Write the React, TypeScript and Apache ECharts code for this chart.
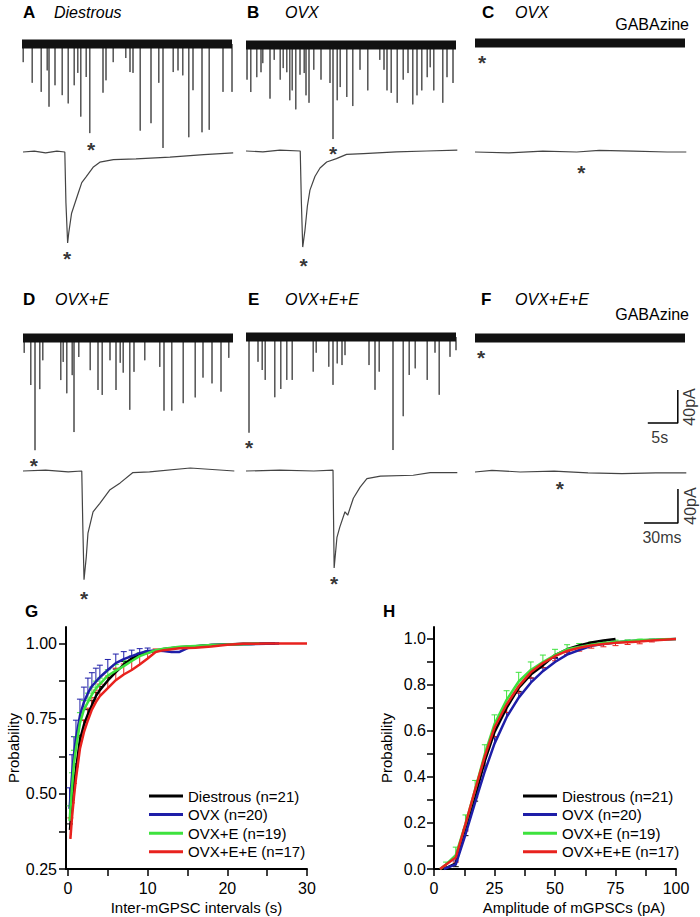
import React, { useEffect, useRef } from "react";
import * as echarts from "echarts";

const FONT = "'Liberation Sans', Arial, Helvetica, sans-serif";

// ---------- Long sweeps (A–F, top rows): spikes as [time s, amplitude pA]
const sweepDurationS = 35;
const spikesA = [[0.2,22],[1.7,47],[3.2,58],[4.2,32],[4.5,76],[5.5,50],[6.7,62],[7.7,72],[8.7,50],[9.3,35],[9.8,88],[10.7,40],[11.3,108],[13.5,59],[14,44],[15.2,22],[17.3,17],[18,34],[18.5,35],[19.7,105],[21.5,96],[22.8,47],[23.5,126],[25.2,34],[26,32],[26.8,38],[27.8,113],[28.5,56],[30,107],[31.2,104],[33.5,58],[35,58]];
const spikesB = [[0.17,42],[0.8,57],[1.8,39],[2.5,33],[2.8,22],[4,65],[4.7,18],[5.7,42],[6.2,28],[6.8,33],[7.3,67],[7.7,55],[8.3,78],[9,36],[9.7,34],[10,61],[10.5,70],[11.3,30],[12.5,42],[14,46],[14.5,114],[15.2,67],[15.7,51],[16.8,63],[17.8,74],[19,30],[20.3,55],[22.3,18],[23,30],[23.5,55],[24.2,58],[25.2,70],[26.2,42],[27,34],[27.8,72],[28.5,61],[29.3,55],[30.2,39],[30.7,27],[31.3,55],[32.8,70],[33.5,39],[34.5,46]];
const spikesC: number[][] = [];
const spikesD = [[0.2,18],[1.3,57],[2,136],[2.8,62],[3.3,27],[6.3,51],[6.7,29],[7.3,67],[8.2,45],[8.5,114],[9.3,23],[11.2,39],[12.5,63],[13.2,69],[14.5,27],[15.5,63],[16.2,30],[16.7,42],[17.8,87],[18.5,41],[20.3,27],[22.8,35],[23.5,88],[24.8,88],[26.7,79],[28.7,72],[30,48],[31.5,55],[33,65],[34.3,24]];
const spikesE = [[0.5,116],[2,30],[2.7,40],[3.2,52],[4.8,73],[5.8,63],[6.8,52],[7.7,52],[11.2,42],[11.7,19],[13.8,36],[14.5,58],[15.2,32],[16,34],[16.5,22],[20.5,34],[21.5,64],[22.2,42],[24.5,137],[26.2,96],[27.2,46],[28.2,38],[30.2,52],[31.5,19],[32.2,70],[34,24],[35,16]];
const spikesF: number[][] = [];

// ---------- Single events (A–F, second rows): [time ms, current pA]
const eventA = [[0,0],[10,1],[20,-1],[30,1],[37,0],[38,-60],[39.5,-107],[40.5,-95],[43,-72],[46,-60],[49,-48],[52,-36],[56,-29],[62,-18],[68,-12],[80,-9],[100,-8],[130,-6],[160,-3],[186,-1]];
const eventB = [[0,0],[15,-1],[30,1],[48,0],[49,-60],[50.2,-113],[52.2,-93],[54.3,-65],[56.6,-46],[61,-30],[65.5,-20],[71.4,-13],[80,-9],[89,-4],[104,-3],[133,-1],[160,0],[187,1]];
const eventC = [[0,0],[30,-1],[60,1],[90,0],[110,2],[140,1],[170,0],[187,0]];
const eventD = [[0,0],[20,1],[40,-1],[52,0],[53,-69],[54,-128],[56,-101],[57.5,-73],[62,-48],[68,-38],[77,-22],[86,-14],[97,-2],[112,-1],[148,3.5],[187,0]];
const eventE = [[0,0],[30,1],[60,0],[77,1],[77.5,-58],[78,-114],[80.5,-78],[83,-66],[87.6,-48],[90,-52],[95,-32],[101,-19],[107,-9],[119,-6],[148,-5],[163,-2],[187,-2]];
const eventF = [[0,0],[15,2],[40,0],[70,1],[100,-1],[130,-2],[160,-1],[187,-1]];

// Asterisks marking the expanded event
const starsTop = [[11.5,-122],[14.5,-125],[1.2,-18],[1.8,-149],[0.5,-128],[1,-18]];
const starsEvent = [[39,-119],[51,-129],[94,-18],[54,-144],[78,-126],[75,-13]];

// Scale bars (in panel F units)
const scaleTop = [[28.8,-103],[33.8,-103],[33.8,-63]]; // 5 s, 40 pA
const scaleTopLabels = [{ v: [30.8,-120], t: "5s", r: 0 }, { v: [35.8,-83.6], t: "40pA", r: 90 }];
const scaleEv = [[149.6,-60],[179.6,-60],[179.6,-20]]; // 30 ms, 40 pA
const scaleEvLabels = [{ v: [165.5,-76.5], t: "30ms", r: 0 }, { v: [190.3,-40], t: "40pA", r: 90 }];

// ---------- G: cumulative inter-event intervals [s, probability], error (+)
const groupNames = ["Diestrous (n=21)", "OVX (n=20)", "OVX+E (n=19)", "OVX+E+E (n=17)"];
const groupColors = ["#000000", "#1e1ea8", "#3de23d", "#e8221e"];
const gDiestrous = [[0.25,0.38],[0.5,0.46],[0.75,0.53],[1,0.58],[1.5,0.68],[2,0.73],[2.5,0.765],[3,0.795],[3.5,0.825],[4,0.845],[5,0.877],[6,0.905],[7,0.93],[8,0.95],[9,0.962],[10,0.97],[11,0.976],[12,0.982],[14,0.988],[16,0.991],[18,0.995],[20,0.997],[22,0.999],[26,1.0]];
const gDiestrousErr = [0.02,0.02,0.02,0.02,0.015,0.015,0.015,0.015,0.012,0.012,0.01,0.01,0.01,0.008,0.006,0.005,0,0,0,0,0,0,0,0];
const gOVX = [[0.2,0.45],[0.5,0.56],[0.75,0.63],[1,0.685],[1.5,0.76],[2,0.805],[2.5,0.835],[3,0.858],[3.5,0.873],[4,0.888],[5,0.912],[6,0.935],[7,0.948],[8,0.958],[9,0.968],[10,0.975],[11,0.977],[12,0.975],[13,0.972],[14,0.972],[15,0.985],[16,0.99],[18,0.995],[20,0.997],[23,0.998],[26.5,1.0]];
const gOVXErr = [0.07,0.07,0.06,0.06,0.055,0.05,0.05,0.045,0.045,0.04,0.035,0.03,0.025,0.02,0.015,0.01,0,0,0,0,0,0,0,0,0,0];
const gOVXE = [[0.2,0.41],[0.5,0.52],[0.75,0.6],[1,0.65],[1.5,0.735],[2,0.78],[2.5,0.805],[3,0.83],[3.5,0.85],[4,0.865],[5,0.893],[6,0.91],[7,0.925],[8,0.942],[9,0.958],[10,0.968],[11,0.978],[12,0.983],[14,0.989],[16,0.992],[18,0.995],[20,0.997],[22,0.998],[24,1.0]];
const gOVXEErr = [0.05,0.05,0.045,0.04,0.035,0.03,0.03,0.025,0.025,0.02,0.02,0.02,0.018,0.015,0.01,0.008,0,0,0,0,0,0,0,0];
const gOVXEE = [[0.3,0.35],[0.5,0.42],[0.75,0.49],[1,0.55],[1.5,0.65],[2,0.705],[2.5,0.745],[3,0.78],[3.5,0.805],[4,0.825],[5,0.852],[6,0.878],[7,0.897],[8,0.912],[9,0.93],[10,0.95],[11,0.972],[12,0.978],[14,0.984],[16,0.986],[18,0.99],[20,0.996],[22,0.999],[25,1.0],[30,1.0]];
const gOVXEEErr = [0.07,0.05,0.045,0.04,0.04,0.04,0.04,0.04,0.04,0.04,0.04,0.04,0.035,0.035,0.03,0.02,0.01,0,0,0,0,0,0,0,0];
const gXTicks = [0,5,10,15,20,25,30];
const gXLabels = [0,10,20,30];
const gYTicks = [0.25,0.375,0.5,0.625,0.75,0.875,1.0];
const gYLabels = [0.25,0.5,0.75,1.0];

// ---------- H: cumulative amplitudes [pA, probability], error (+/-)
const hDiestrous = [[3,0],[5,0.004],[9,0.025],[13,0.165],[17,0.315],[21,0.47],[25,0.595],[30,0.70],[35,0.787],[40,0.845],[45,0.885],[50,0.93],[55,0.955],[60,0.972],[65,0.985],[70,0.993],[75,1.0]];
const hDiestrousErr = [0,0,-0.015,-0.02,-0.02,-0.02,-0.02,-0.02,-0.015,-0.015,-0.01,-0.01,-0.01,-0.008,-0.005,-0.005,0];
const hOVX = [[4,0],[9,0.02],[13,0.15],[17,0.29],[21,0.425],[25,0.545],[30,0.66],[35,0.745],[40,0.81],[45,0.86],[50,0.9],[55,0.932],[60,0.952],[65,0.97],[70,0.978],[75,0.985],[80,0.99],[85,0.993],[90,0.996],[95,0.998],[100,1.0]];
const hOVXErr = [0,0.015,0.02,0.025,0.025,0.025,0.02,0.02,0.02,0.015,0.015,0.01,0.01,0.008,0.006,0.005,0.004,0.003,0.002,0,0];
const hOVXE = [[2.5,0],[5,0.02],[9,0.06],[13,0.195],[17,0.345],[21,0.5],[25,0.63],[30,0.735],[35,0.815],[40,0.865],[45,0.9],[50,0.93],[55,0.955],[60,0.965],[65,0.975],[70,0.982],[75,0.987],[80,0.99],[85,0.995],[90,0.997],[95,0.999],[100,1.0]];
const hOVXEErr = [0,0.01,0.035,0.04,0.04,0.04,0.04,0.04,0.04,0.035,0.03,0.025,0.02,0.015,0.012,0.01,0.008,0.006,0.004,0.002,0,0];
const hOVXEE = [[2.5,0],[5,0.02],[9,0.05],[13,0.195],[17,0.345],[21,0.49],[25,0.615],[30,0.715],[35,0.795],[40,0.855],[45,0.895],[50,0.925],[55,0.948],[60,0.962],[65,0.972],[70,0.978],[75,0.983],[80,0.986],[85,0.989],[90,0.993],[95,0.997],[100,1.0]];
const hOVXEEErr = [0,-0.01,-0.02,-0.03,-0.035,-0.04,-0.04,-0.035,-0.03,-0.025,-0.02,-0.02,-0.015,-0.015,-0.012,-0.012,-0.012,-0.01,-0.01,-0.006,0,0];
const hXTicks = [0,12.5,25,37.5,50,62.5,75,87.5,100];
const hXLabels = [0,25,50,75,100];
const hYTicks = [0,0.1,0.2,0.3,0.4,0.5,0.6,0.7,0.8,0.9,1.0];
const hYLabels = [0,0.2,0.4,0.6,0.8,1.0];

// ---------- text
const panelLetters = [["A",23,12],["B",247,12],["C",482,12],["D",23,299],["E",248,299],["F",481,299],["G",25,611],["H",383,611]];
const conditions = [["Diestrous",54,12],["OVX",285,12],["OVX",515,12],["OVX+E",55,299],["OVX+E+E",285,299],["OVX+E+E",515,299]];
const gabazine = [["GABAzine",689,24],["GABAzine",689,314]];

// layout
const topLayout = [{left:22,base:44},{left:246,base:45},{left:475,base:43},{left:23,base:338},{left:246,base:337},{left:475,base:338}];
const evLayout = [{left:23,base:152},{left:246,base:151},{left:475,base:152},{left:23,base:471},{left:246,base:471},{left:475,base:472}];
const TOP_PX_PER_S = 6, TOP_PX_PER_PA = 0.825, TOP_YMIN = -160, TOP_YMAX = 12;
const EV_PX_PER_MS = 1.13, EV_PX_PER_PA = 0.85, EV_XMAX = 187, EV_YMIN = -150, EV_YMAX = 10;

function spikeLine(sp: number[][]) {
  const out: number[][] = [];
  for (const [t, a] of sp) out.push([t, 0], [t, -a], [t, 0]);
  return out;
}

function withErr(d: number[][], e: number[]) {
  return d.map((p, i) => [p[0], p[1], e[i] || 0]);
}

function buildOption() {
  const grid: any[] = [];
  const xAxis: any[] = [];
  const yAxis: any[] = [];
  const series: any[] = [];

  const spikes = [spikesA, spikesB, spikesC, spikesD, spikesE, spikesF];
  const events = [eventA, eventB, eventC, eventD, eventE, eventF];

  topLayout.forEach((l, i) => {
    grid.push({ left: l.left, top: l.base - TOP_YMAX * TOP_PX_PER_PA, width: sweepDurationS * TOP_PX_PER_S, height: (TOP_YMAX - TOP_YMIN) * TOP_PX_PER_PA, containLabel: false, outerBoundsMode: "none" });
    xAxis.push({ gridIndex: i, type: "value", min: 0, max: sweepDurationS, show: false });
    yAxis.push({ gridIndex: i, type: "value", min: TOP_YMIN, max: TOP_YMAX, show: false });
  });
  evLayout.forEach((l, i) => {
    grid.push({ left: l.left, top: l.base - EV_YMAX * EV_PX_PER_PA, width: EV_XMAX * EV_PX_PER_MS, height: (EV_YMAX - EV_YMIN) * EV_PX_PER_PA, containLabel: false, outerBoundsMode: "none" });
    xAxis.push({ gridIndex: 6 + i, type: "value", min: 0, max: EV_XMAX, show: false });
    yAxis.push({ gridIndex: 6 + i, type: "value", min: EV_YMIN, max: EV_YMAX, show: false });
  });
  grid.push({ left: 66, top: 627, width: 241, height: 242, containLabel: false, outerBoundsMode: "none" });
  grid.push({ left: 434, top: 627, width: 242, height: 242, containLabel: false, outerBoundsMode: "none" });

  const axisCommon = (gi: number) => ({
    gridIndex: gi,
    type: "value",
    axisLine: { show: true, onZero: false, lineStyle: { color: "#000", width: 2 } },
    splitLine: { show: false },
    nameLocation: "middle",
    nameTextStyle: { fontSize: 15, color: "#000", fontFamily: FONT },
  });
  const tick = (vals: number[]) => ({ show: true, inside: false, length: 7, customValues: vals, lineStyle: { color: "#000", width: 1.5 } });
  const lab = { fontSize: 16, color: "#000", fontFamily: FONT };

  xAxis.push({ ...axisCommon(12), min: -0.25, max: 30, axisTick: tick(gXTicks),
    axisLabel: { ...lab, customValues: gXLabels, margin: 11, formatter: (v: number) => String(v) },
    name: "Inter-mGPSC intervals (s)", nameGap: 31, nameTextStyle: { fontSize: 15, color: "#000", fontFamily: FONT, padding: [0, 0, 0, 20] } });
  yAxis.push({ ...axisCommon(12), min: 0.25, max: 1.055, axisTick: tick(gYTicks),
    axisLabel: { ...lab, customValues: gYLabels, margin: 9, formatter: (v: number) => v.toFixed(2) },
    name: "Probability", nameGap: 45 });
  xAxis.push({ ...axisCommon(13), min: 0, max: 100, axisTick: tick(hXTicks),
    axisLabel: { ...lab, customValues: hXLabels, margin: 11, formatter: (v: number) => String(v) },
    name: "Amplitude of mGPSCs (pA)", nameGap: 31, nameTextStyle: { fontSize: 15, color: "#000", fontFamily: FONT, padding: [0, 0, 0, 38] } });
  yAxis.push({ ...axisCommon(13), min: 0, max: 1.052, axisTick: tick(hYTicks),
    axisLabel: { ...lab, customValues: hYLabels, margin: 8, formatter: (v: number) => v.toFixed(1) },
    name: "Probability", nameGap: 40 });

  // traces
  spikes.forEach((sp, i) => {
    series.push({ type: "line", xAxisIndex: i, yAxisIndex: i, data: spikeLine(sp), symbol: "none", silent: true, z: 2,
      lineStyle: { color: "#4a4a4a", width: 1 } });
    series.push({ type: "line", xAxisIndex: i, yAxisIndex: i, data: [[0, 0], [sweepDurationS, 0]], symbol: "none", silent: true, z: 3,
      lineStyle: { color: "#111", width: 9 } });
  });
  events.forEach((ev, i) => {
    series.push({ type: "line", xAxisIndex: 6 + i, yAxisIndex: 6 + i, data: ev, symbol: "none", silent: true, z: 2,
      lineStyle: { color: "#444", width: 1.2 } });
  });
  const star = (gi: number, pt: number[]) => ({
    type: "scatter", xAxisIndex: gi, yAxisIndex: gi, data: [pt], symbolSize: 1, silent: true, clip: false, z: 5,
    itemStyle: { color: "rgba(0,0,0,0)" },
    label: { show: true, formatter: "*", position: "inside", fontSize: 21, fontWeight: "bold", color: "#000", fontFamily: FONT, offset: [0, 5] },
  });
  starsTop.forEach((p, i) => series.push(star(i, p)));
  starsEvent.forEach((p, i) => series.push(star(6 + i, p)));

  // scale bars
  series.push({ type: "line", xAxisIndex: 5, yAxisIndex: 5, data: scaleTop, symbol: "none", silent: true, clip: false, lineStyle: { color: "#000", width: 1.5 } });
  series.push({ type: "line", xAxisIndex: 11, yAxisIndex: 11, data: scaleEv, symbol: "none", silent: true, clip: false, lineStyle: { color: "#000", width: 1.5 } });
  const sbLabel = (gi: number, items: any[]) => ({
    type: "scatter", xAxisIndex: gi, yAxisIndex: gi, symbolSize: 1, silent: true, clip: false,
    itemStyle: { color: "rgba(0,0,0,0)" },
    data: items.map((it) => ({ value: it.v, label: { show: true, formatter: it.t, rotate: it.r, position: "inside", fontSize: 16, color: "#000", fontFamily: FONT } })),
  });
  series.push(sbLabel(5, scaleTopLabels));
  series.push(sbLabel(11, scaleEvLabels));

  // G & H curves
  const errSeries = (gi: number, data: number[][], color: string) => ({
    type: "custom", xAxisIndex: gi, yAxisIndex: gi, data, silent: true, z: 3, clip: false,
    renderItem: (params: any, api: any) => {
      const x = api.value(0), y = api.value(1), e = api.value(2);
      if (!e) return null;
      const p0 = api.coord([x, y]);
      const p1 = api.coord([x, y + e]);
      return {
        type: "group",
        children: [
          { type: "line", shape: { x1: p0[0], y1: p0[1], x2: p1[0], y2: p1[1] }, style: { stroke: color, lineWidth: 1 } },
          { type: "line", shape: { x1: p1[0] - 3, y1: p1[1], x2: p1[0] + 3, y2: p1[1] }, style: { stroke: color, lineWidth: 1 } },
        ],
      };
    },
  });
  const gSets = [[gDiestrous, gDiestrousErr], [gOVX, gOVXErr], [gOVXE, gOVXEErr], [gOVXEE, gOVXEEErr]];
  const hSets = [[hDiestrous, hDiestrousErr], [hOVX, hOVXErr], [hOVXE, hOVXEErr], [hOVXEE, hOVXEEErr]];
  [[12, gSets], [13, hSets]].forEach(([gi, sets]: any) => {
    sets.forEach(([d, e]: any, k: number) => {
      series.push(errSeries(gi, withErr(d, e), groupColors[k]));
      series.push({ type: "line", name: groupNames[k], xAxisIndex: gi, yAxisIndex: gi, data: d, symbol: "none", silent: true, z: 4 + k,
        lineStyle: { color: groupColors[k], width: 2.5 }, itemStyle: { color: groupColors[k] } });
    });
  });

  const legendCommon = {
    data: groupNames, orient: "vertical", top: 788, itemWidth: 34, itemHeight: 3, itemGap: 2.6, icon: "rect",
    selectedMode: false, padding: 0,
    textStyle: { fontSize: 15, color: "#000", fontFamily: FONT, lineHeight: 16 },
  };

  const graphic: any[] = [];
  panelLetters.forEach(([t, x, y]: any) => graphic.push({ type: "text", x, y, style: { text: t, fill: "#000", font: `bold 17px ${FONT}`, align: "left", verticalAlign: "middle" } }));
  conditions.forEach(([t, x, y]: any) => graphic.push({ type: "text", x, y, style: { text: t, fill: "#000", font: `italic 16px ${FONT}`, align: "left", verticalAlign: "middle" } }));
  gabazine.forEach(([t, x, y]: any) => graphic.push({ type: "text", x, y, style: { text: t, fill: "#000", font: `16px ${FONT}`, align: "right", verticalAlign: "middle" } }));

  return {
    animation: false,
    backgroundColor: "#fff",
    textStyle: { fontFamily: FONT },
    grid, xAxis, yAxis, series,
    legend: [{ ...legendCommon, left: 149 }, { ...legendCommon, left: 523 }],
    graphic,
  };
}

export default function App() {
  const ref = useRef<HTMLDivElement>(null);
  useEffect(() => {
    const chart = echarts.init(ref.current!, null, { renderer: "svg" });
    chart.setOption(buildOption() as any);
    return () => chart.dispose();
  }, []);
  return <div ref={ref} style={{ position: "absolute", left: 0, top: 0, width: 700, height: 917, background: "#fff" }} />;
}
